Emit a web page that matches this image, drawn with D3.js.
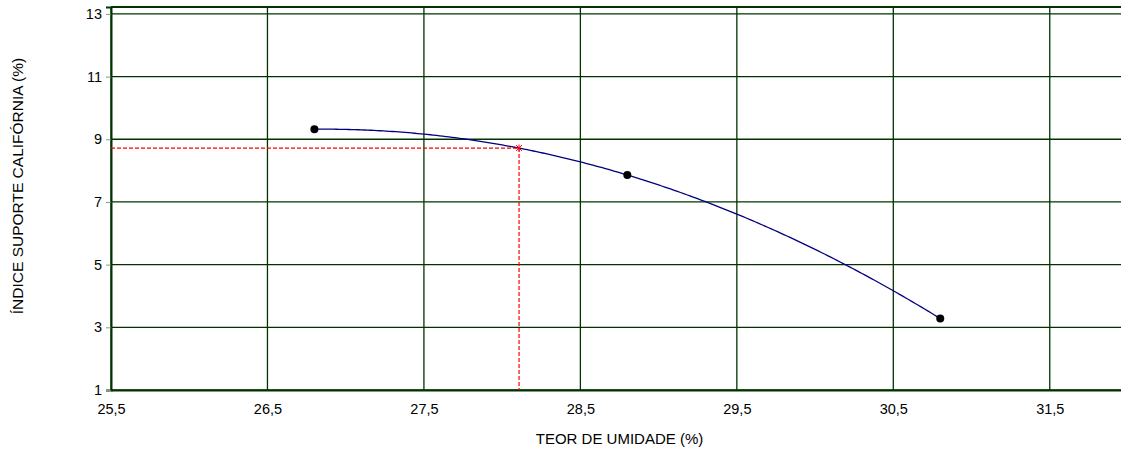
<!DOCTYPE html>
<html>
<head>
<meta charset="utf-8">
<script src="https://cdn.jsdelivr.net/npm/d3@7"></script>
<style>
  body { margin: 0; background: #fff; }
  text { font-family: "Liberation Sans", Arial, sans-serif; fill: #000; }
</style>
</head>
<body>
<div id="chart"></div>
<script>
// dados dos ensaios
const umidade = [26.8, 28.8, 30.8];
const isc = [9.32, 7.86, 3.28];
// ponto ótimo
const umidadeOtima = 28.108;
const iscOtimo = 8.72;
const xTicks = [25.5, 26.5, 27.5, 28.5, 29.5, 30.5, 31.5];
const yTicks = [1, 3, 5, 7, 9, 11, 13];

const width = 1121, height = 450;
const margin = {top: 7, left: 111, bottom: 60};

const svg = d3.select("#chart").append("svg")
    .attr("width", width)
    .attr("height", height);

const x = d3.scaleLinear().domain([25.5, 32]).range([margin.left, 1128]);
const y = d3.scaleLinear().domain([1, 13.22]).range([height - margin.bottom, margin.top]);

const gridColor = "#003300";

// grade
svg.append("g")
    .selectAll("line")
    .data(xTicks)
    .join("line")
    .attr("x1", d => x(d)).attr("x2", d => x(d))
    .attr("y1", y(1)).attr("y2", margin.top)
    .attr("stroke", gridColor).attr("stroke-width", 1.3);

svg.append("g")
    .selectAll("line")
    .data(yTicks)
    .join("line")
    .attr("x1", margin.left).attr("x2", width)
    .attr("y1", d => y(d)).attr("y2", d => y(d))
    .attr("stroke", gridColor).attr("stroke-width", 1.3);

// moldura
svg.append("line")
    .attr("x1", margin.left).attr("x2", width)
    .attr("y1", margin.top).attr("y2", margin.top)
    .attr("stroke", gridColor).attr("stroke-width", 2);

// eixos
const yAxis = svg.append("g")
    .attr("transform", `translate(${margin.left},0)`)
    .call(d3.axisLeft(y).tickValues(yTicks).tickSize(5).tickFormat(d3.format("d")));
yAxis.select(".domain").attr("stroke", gridColor).attr("stroke-width", 2);
yAxis.selectAll(".tick line").attr("stroke", "#7f997f");
yAxis.selectAll(".tick text")
    .attr("x", -9)
    .style("font-size", "14.5px")
    .style("font-family", "Liberation Sans, Arial, sans-serif");

const xAxis = svg.append("g")
    .attr("transform", `translate(0,${y(1)})`)
    .call(d3.axisBottom(x).tickValues(xTicks).tickSize(0).tickFormat(d => String(d).replace(".", ",")));
xAxis.select(".domain").attr("stroke", gridColor).attr("stroke-width", 2);
xAxis.selectAll(".tick text")
    .attr("y", 14)
    .style("font-size", "14.5px")
    .style("font-family", "Liberation Sans, Arial, sans-serif");

// linha de tendência (polinômio de 2ª ordem pelos pontos)
function ajusteQuadratico(xs, ys) {
    const [x0, x1, x2] = xs, [y0, y1, y2] = ys;
    const a = ((y2 - y1) / (x2 - x1) - (y1 - y0) / (x1 - x0)) / (x2 - x0);
    const b = (y1 - y0) / (x1 - x0) - a * (x0 + x1);
    const c = y0 - a * x0 * x0 - b * x0;
    return v => a * v * v + b * v + c;
}
const f = ajusteQuadratico(umidade, isc);
const curva = d3.range(umidade[0], umidade[2] + 0.001, 0.02).map(v => [v, f(v)]);

svg.append("path")
    .datum(curva)
    .attr("fill", "none")
    .attr("stroke", "#000080")
    .attr("stroke-width", 1.3)
    .attr("d", d3.line().x(d => x(d[0])).y(d => y(d[1])));

// linhas tracejadas do ponto ótimo
svg.append("path")
    .attr("fill", "none")
    .attr("stroke", "#ff0000")
    .attr("stroke-width", 1.2)
    .attr("stroke-dasharray", "4,2")
    .attr("d", `M${x(25.5)},${y(iscOtimo)}H${x(umidadeOtima)}V${y(1)}`);

svg.append("path")
    .attr("transform", `translate(${x(umidadeOtima)},${y(iscOtimo)})`)
    .attr("d", "M-3,-3L3,3M-3,3L3,-3M0,-3.5V3.5")
    .attr("stroke", "#ff0000")
    .attr("stroke-width", 1);

// pontos
svg.append("g")
    .selectAll("circle")
    .data(umidade.map((d, i) => [d, isc[i]]))
    .join("circle")
    .attr("cx", d => x(d[0]))
    .attr("cy", d => y(d[1]))
    .attr("r", 4)
    .attr("fill", "#000");

// títulos
svg.append("text")
    .attr("x", (x(25.5) + x(32)) / 2)
    .attr("y", 443.5)
    .attr("text-anchor", "middle")
    .style("font-size", "15px")
    .text("TEOR DE UMIDADE (%)");

svg.append("text")
    .attr("transform", "translate(23,186) rotate(-90)")
    .attr("text-anchor", "middle")
    .style("font-size", "15.5px")
    .text("ÍNDICE SUPORTE CALIFÓRNIA (%)");
</script>
</body>
</html>
